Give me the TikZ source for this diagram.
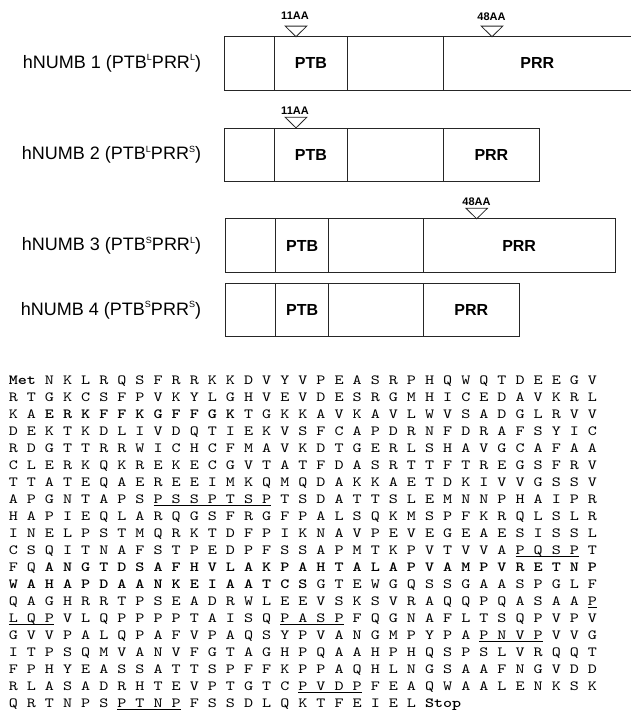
\documentclass[tikz,border=0pt]{standalone}
\usepackage{fontspec}
\setmainfont{Liberation Sans}
\newfontfamily\seqfont{lmmono10-regular}[Extension=.otf, BoldFont=lmmonolt10-bold, FakeStretch=1.2313]
\usetikzlibrary{positioning}

% small raised isoform letter and underlined motif
\newcommand\iso[1]{\raisebox{0.42em}{\fontsize{9}{9}\selectfont #1}}
\newsavebox\motifbox
\newcommand\ulseq[1]{\sbox\motifbox{#1}\rlap{\rule[-2.4pt]{\wd\motifbox}{1.2pt}}\usebox\motifbox}

\begin{document}
\begin{tikzpicture}[x=1pt, y=-1pt,
  every node/.style={inner sep=0pt, outer sep=0pt},
  seg/.style={draw=black!85, line width=0.8pt, minimum height=53.5pt, font=\bfseries\fontsize{16}{16}\selectfont},
  isolbl/.style={font=\fontsize{18}{20}\selectfont},
  aalbl/.style={font=\bfseries\fontsize{11}{11}\selectfont},
  tri/.style={draw=black!85, line width=0.8pt},
  seq/.style={anchor=base west, font=\seqfont\fontsize{14}{14}\selectfont}
]
  \useasboundingbox (0,0) rectangle (630,710);

  % hNUMB 1
  \node[seg, anchor=north west, minimum width=50.4pt] (b1n) at (224,36.7) {};
  \node[seg, minimum width=73pt, right=0pt of b1n] (b1ptb) {PTB};
  \node[seg, minimum width=96.1pt, right=0pt of b1ptb] (b1mid) {};
  \node[seg, minimum width=187.5pt, right=0pt of b1mid] (b1prr) {PRR};
  \node[isolbl, left=23pt of b1n] (l1) {hNUMB 1 (PTB\iso{L}PRR\iso{L})};

  % hNUMB 2
  \node[seg, anchor=north west, minimum width=50.4pt] (b2n) at (224,127.9) {};
  \node[seg, minimum width=73pt, right=0pt of b2n] (b2ptb) {PTB};
  \node[seg, minimum width=96.1pt, right=0pt of b2ptb] (b2mid) {};
  \node[seg, minimum width=95.8pt, right=0pt of b2mid] (b2prr) {PRR};
  \node[isolbl, left=23pt of b2n] (l2) {hNUMB 2 (PTB\iso{L}PRR\iso{S})};

  % hNUMB 3
  \node[seg, anchor=north west, minimum width=50.7pt] (b3n) at (225,218.8) {};
  \node[seg, minimum width=53pt, right=0pt of b3n] (b3ptb) {PTB};
  \node[seg, minimum width=94.6pt, right=0pt of b3ptb] (b3mid) {};
  \node[seg, minimum width=191.7pt, right=0pt of b3mid] (b3prr) {PRR};
  \node[isolbl, left=24pt of b3n] (l3) {hNUMB 3 (PTB\iso{S}PRR\iso{L})};

  % hNUMB 4
  \node[seg, anchor=north west, minimum width=50.7pt] (b4n) at (225,283.2) {};
  \node[seg, minimum width=53pt, right=0pt of b4n] (b4ptb) {PTB};
  \node[seg, minimum width=94.6pt, right=0pt of b4ptb] (b4mid) {};
  \node[seg, minimum width=96pt, right=0pt of b4mid] (b4prr) {PRR};
  \node[isolbl, left=24pt of b4n] (l4) {hNUMB 4 (PTB\iso{S}PRR\iso{S})};

  % insertion markers
  \coordinate (m1) at (296,36.7);
  \coordinate (m2) at (492,36.7);
  \coordinate (m3) at (296,127.9);
  \coordinate (m4) at (476.7,218.8);
  \draw[tri] (m1) -- ++(-10.8,-10.6) -- ++(21.6,0) -- cycle;
  \draw[tri] (m2) -- ++(-10.8,-10.6) -- ++(21.6,0) -- cycle;
  \draw[tri] (m3) -- ++(-10.8,-10.6) -- ++(21.6,0) -- cycle;
  \draw[tri] (m4) -- ++(-10.8,-10.6) -- ++(21.6,0) -- cycle;
  \node[aalbl] (a1) at (295,16) {11AA};
  \node[aalbl] (a2) at (491.5,16.5) {48AA};
  \node[aalbl] (a3) at (295,110.5) {11AA};
  \node[aalbl] (a4) at (476.5,201.5) {48AA};

  % sequence
  \node[seq] (r1) at (8.8,384.9) {\textbf{Met} N K L R Q S F R R K K D V Y V P E A S R P H Q W Q T D E E G V};
  \node[seq] (r2) at (8.8,401.9) {R T G K C S F P V K Y L G H V E V D E S R G M H I C E D A V K R L};
  \node[seq] (r3) at (8.8,418.9) {K A \textbf{E R K F F K G F F G K} T G K K A V K A V L W V S A D G L R V V};
  \node[seq] (r4) at (8.8,435.9) {D E K T K D L I V D Q T I E K V S F C A P D R N F D R A F S Y I C};
  \node[seq] (r5) at (8.8,452.9) {R D G T T R R W I C H C F M A V K D T G E R L S H A V G C A F A A};
  \node[seq] (r6) at (8.8,469.9) {C L E R K Q K R E K E C G V T A T F D A S R T T F T R E G S F R V};
  \node[seq] (r7) at (8.8,486.9) {T T A T E Q A E R E E I M K Q M Q D A K K A E T D K I V V G S S V};
  \node[seq] (r8) at (8.8,503.9) {A P G N T A P S \ulseq{P S S P T S P} T S D A T T S L E M N N P H A I P R};
  \node[seq] (r9) at (8.8,520.9) {H A P I E Q L A R Q G S F R G F P A L S Q K M S P F K R Q L S L R};
  \node[seq] (r10) at (8.8,537.9) {I N E L P S T M Q R K T D F P I K N A V P E V E G E A E S I S S L};
  \node[seq] (r11) at (8.8,554.9) {C S Q I T N A F S T P E D P F S S A P M T K P V T V V A \ulseq{P Q S P} T};
  \node[seq] (r12) at (8.8,571.9) {F Q \textbf{A N G T D S A F H V L A K P A H T A L A P V A M P V R E T N P}};
  \node[seq] (r13) at (8.8,588.9) {\textbf{W A H A P D A A N K E I A A T C S} G T E W G Q S S G A A S P G L F};
  \node[seq] (r14) at (8.8,605.9) {Q A G H R R T P S E A D R W L E E V S K S V R A Q Q P Q A S A A \ulseq{P}};
  \node[seq] (r15) at (8.8,622.9) {\ulseq{L Q P} V L Q P P P P T A I S Q \ulseq{P A S P} F Q G N A F L T S Q P V P V};
  \node[seq] (r16) at (8.8,639.9) {G V V P A L Q P A F V P A Q S Y P V A N G M P Y P A \ulseq{P N V P} V V G};
  \node[seq] (r17) at (8.8,656.9) {I T P S Q M V A N V F G T A G H P Q A A H P H Q S P S L V R Q Q T};
  \node[seq] (r18) at (8.8,673.9) {F P H Y E A S S A T T S P F F K P P A Q H L N G S A A F N G V D D};
  \node[seq] (r19) at (8.8,690.9) {R L A S A D R H T E V P T G T C \ulseq{P V D P} F E A Q W A A L E N K S K};
  \node[seq] (r20) at (8.8,707.9) {Q R T N P S \ulseq{P T N P} F S S D L Q K T F E I E L \textbf{Stop}};
\end{tikzpicture}
\end{document}
